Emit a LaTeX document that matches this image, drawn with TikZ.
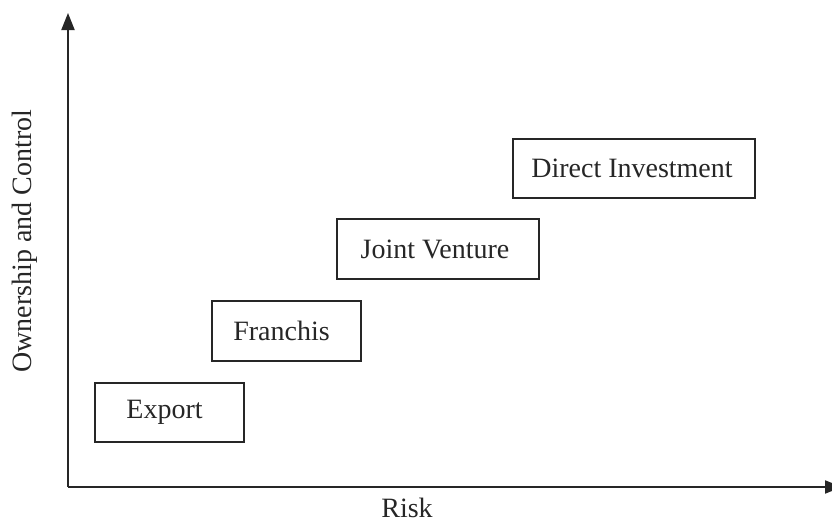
\documentclass[tikz,border=0pt]{standalone}
\usepackage{fontspec}
\setmainfont{Liberation Serif}
\usetikzlibrary{arrows.meta}
\begin{document}
\begin{tikzpicture}[x=1pt,y=-1pt,
  stagebox/.style={draw=black!85, line width=1.8pt, rectangle, inner sep=0pt,
    font=\fontsize{28}{32}\selectfont, text=black!85},
  axislabel/.style={font=\fontsize{28}{32}\selectfont, text=black!85, inner sep=0pt},
  axisline/.style={line width=2pt, draw=black!85,
    -{Triangle[length=17pt,width=13pt]}}]
\useasboundingbox (0,0) rectangle (832,520);
\coordinate (o) at (68,487);
\coordinate (ytop) at (68,13);
\coordinate (xend) at (842,487);
\draw[axisline] (o) -- (ytop);
\draw[axisline] (o) -- (xend);
\node[stagebox, minimum width=149pt, minimum height=59pt] (export) at (169.5,412.5) {\hspace*{-10pt}Export};
\node[stagebox, minimum width=149pt, minimum height=60pt] (franchis) at (286.5,331) {\hspace*{-10pt}Franchis};
\node[stagebox, minimum width=202pt, minimum height=60pt] (jv) at (438,249) {\hspace*{-6pt}Joint Venture};
\node[stagebox, minimum width=242pt, minimum height=59pt] (di) at (634,168.5) {\hspace*{-4pt}Direct Investment};
\node[axislabel, rotate=90] (ylab) at (25,241) {Ownership and Control};
\node[axislabel] (xlab) at (407,508) {Risk};
\end{tikzpicture}
\end{document}
